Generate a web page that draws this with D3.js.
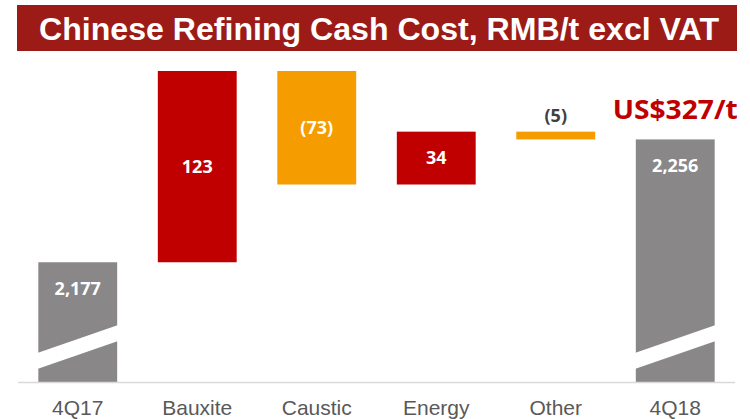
<!DOCTYPE html>
<html>
<head>
<meta charset="utf-8">
<script src="https://cdnjs.cloudflare.com/ajax/libs/d3/7.8.5/d3.min.js"></script>
<style>
  body { margin: 0; background: #fff; }
  svg { display: block; }
</style>
</head>
<body>
<div id="chart"></div>
<script>
// chart data
var categories = ["4Q17", "Bauxite", "Caustic", "Energy", "Other", "4Q18"];
var values = [2177, 123, -73, 34, -5, 2256];
var kinds = ["total", "delta", "delta", "delta", "delta", "total"];
var valueLabels = ["2,177", "123", "(73)", "34", "(5)", "2,256"];
var titleText = "Chinese Refining Cash Cost, RMB/t excl VAT";
var noteText = "US$327/t";

var width = 750, height = 419;
var baseY = 382;

var svg = d3.select("#chart").append("svg")
    .attr("width", width)
    .attr("height", height);

// title banner
svg.append("rect")
    .attr("x", 17).attr("y", 5)
    .attr("width", 720).attr("height", 46)
    .attr("fill", "#9c1b17");

svg.append("text")
    .attr("x", 379).attr("y", 40)
    .attr("text-anchor", "middle")
    .attr("fill", "#fff")
    .style("font-family", "'Liberation Sans Narrow', 'Liberation Sans', Arial, sans-serif")
    .style("font-weight", "bold")
    .style("font-size", "32px")
    .attr("textLength", 680)
    .attr("lengthAdjust", "spacingAndGlyphs")
    .text(titleText);

// build waterfall steps
var running = 0;
var steps = categories.map(function (c, i) {
    var v = values[i], s;
    if (kinds[i] === "total") {
        running = v;
        s = { cat: c, lo: null, hi: v, kind: "total", v: v };
    } else {
        var start = running;
        running = running + v;
        s = { cat: c, lo: Math.min(start, running), hi: Math.max(start, running), kind: "delta", v: v };
    }
    s.label = valueLabels[i];
    return s;
});

var x = d3.scaleBand()
    .domain(categories)
    .range([18, 735])
    .paddingInner(0.34)
    .paddingOuter(0.17);

// broken axis: bottom of the chart stands for 2,100
var y = d3.scaleLinear()
    .domain([2100, 2300])
    .range([baseY, 71]);

function colorOf(d) {
    if (d.kind === "total") return "#898787";
    return d.v > 0 ? "#c00000" : "#f59c00";
}

svg.append("g").selectAll("rect")
    .data(steps)
    .enter().append("rect")
    .attr("x", function (d) { return x(d.cat); })
    .attr("width", x.bandwidth())
    .attr("y", function (d) { return y(d.hi); })
    .attr("height", function (d) {
        var bottom = d.kind === "total" ? baseY : y(d.lo);
        return bottom - y(d.hi);
    })
    .attr("fill", colorOf);

// axis break stripe on the total bars
svg.append("g").selectAll("polygon")
    .data(steps.filter(function (d) { return d.kind === "total"; }))
    .enter().append("polygon")
    .attr("fill", "#fff")
    .attr("points", function (d) {
        var x0 = x(d.cat) - 1, x1 = x(d.cat) + x.bandwidth() + 1;
        return [[x0, baseY - 29], [x1, baseY - 57], [x1, baseY - 41], [x0, baseY - 13]].join(" ");
    });

// baseline
svg.append("line")
    .attr("x1", 18).attr("x2", 735)
    .attr("y1", baseY + 0.5).attr("y2", baseY + 0.5)
    .attr("stroke", "#d9d9d9")
    .attr("stroke-width", 1.5);

function isThin(d) {
    return d.kind !== "total" && Math.abs(y(d.lo) - y(d.hi)) < 25;
}

// value labels
svg.append("g").selectAll("text")
    .data(steps)
    .enter().append("text")
    .attr("x", function (d) { return x(d.cat) + x.bandwidth() / 2; })
    .attr("y", function (d) {
        if (d.kind === "total") return y(d.hi) + 26;
        if (isThin(d)) return y(d.hi) - 16;
        return (y(d.lo) + y(d.hi)) / 2;
    })
    .attr("dy", "0.35em")
    .attr("text-anchor", "middle")
    .attr("fill", function (d) { return isThin(d) ? "#404040" : "#fff"; })
    .style("font-family", "'Open Sans', sans-serif")
    .style("font-weight", "bold")
    .style("font-size", "18px")
    .text(function (d) { return d.label; });

// category labels
svg.append("g").selectAll("text")
    .data(categories)
    .enter().append("text")
    .attr("x", function (d) { return x(d) + x.bandwidth() / 2; })
    .attr("y", 415)
    .attr("text-anchor", "middle")
    .attr("fill", "#595959")
    .style("font-family", "'Liberation Sans', Arial, sans-serif")
    .style("font-size", "21px")
    .text(function (d) { return d; });

// US$ annotation
svg.append("text")
    .attr("x", x("4Q18") + x.bandwidth() / 2)
    .attr("y", 119)
    .attr("text-anchor", "middle")
    .attr("fill", "#c00000")
    .style("font-family", "'Open Sans', sans-serif")
    .style("font-weight", "bold")
    .style("font-size", "27px")
    .attr("textLength", 125)
    .attr("lengthAdjust", "spacingAndGlyphs")
    .text(noteText);
</script>
</body>
</html>
